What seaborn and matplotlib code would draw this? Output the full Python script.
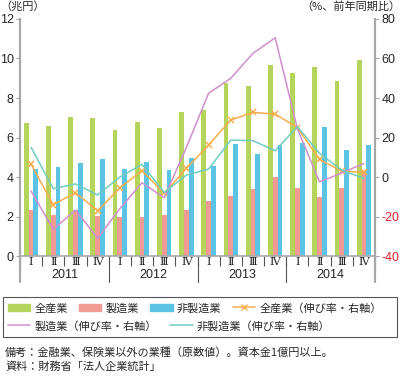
import numpy as np
import pandas as pd
import matplotlib
matplotlib.use("Agg")
import matplotlib.pyplot as plt
import matplotlib.transforms as mtransforms
from matplotlib.patches import Patch, Rectangle
from matplotlib.lines import Line2D
import seaborn as sns

# data (兆円 / 前年同期比 %)
years = ["2011", "2012", "2013", "2014"]
quarters = ["Ⅰ", "Ⅱ", "Ⅲ", "Ⅳ"]

all_ind = [6.72, 6.57, 7.02, 6.99, 6.36, 6.78, 6.46, 7.31,
           7.39, 8.78, 8.61, 9.66, 9.25, 9.57, 8.88, 9.92]
mfg = [2.33, 2.06, 2.35, 2.04, 1.97, 2.00, 2.06, 2.33,
       2.80, 3.05, 3.38, 4.00, 3.46, 2.99, 3.46, 4.30]
nonmfg = [4.39, 4.49, 4.73, 4.91, 4.39, 4.76, 4.35, 4.96,
          4.57, 5.67, 5.16, 5.64, 5.74, 6.55, 5.38, 5.62]

all_g = [6.4, -14.0, -7.9, -17.1, -5.5, 3.2, -8.3, 4.4,
         16.2, 28.9, 32.7, 31.9, 25.0, 8.9, 3.0, 2.4]
mfg_g = [-7.1, -26.5, -16.7, -31.0, -16.0, -2.9, -10.5, 15.0,
         42.4, 50.0, 62.6, 70.5, 24.5, -2.4, 2.0, 6.9]
non_g = [15.0, -5.9, -3.5, -9.1, 0.0, 6.4, -7.8, 1.0,
         4.0, 18.7, 18.4, 13.3, 25.5, 12.0, 3.5, -0.7]

bar_names = ["全産業", "製造業", "非製造業"]
line_names = ["全産業（伸び率・右軸）", "製造業（伸び率・右軸）", "非製造業（伸び率・右軸）"]
bar_colors = ["#b4d45c", "#f29b94", "#5bc3e3"]
line_colors = ["#f8ad4e", "#cf8fcf", "#72cdbf"]
grey = "#a8a8a8"
num_font = ["Liberation Sans", "DejaVu Sans"]

keys = [f"{y}-{q}" for y in years for q in quarters]
df = pd.DataFrame({
    "key": keys * 3,
    "series": np.repeat(bar_names, len(keys)),
    "value": all_ind + mfg + nonmfg,
})

sns.set_theme(style="white")
plt.rcParams["font.family"] = ["Noto Sans CJK JP", "DejaVu Sans"]

fig = plt.figure(figsize=(4, 3.76), dpi=100)
ax = fig.add_axes([0.05, 0.319, 0.8875, 0.6305])

sns.barplot(data=df, x="key", y="value", hue="series", order=keys,
            hue_order=bar_names, palette=bar_colors, width=0.65,
            saturation=1, linewidth=0, legend=False, ax=ax)
ax.set_xlim(-0.5, 15.5)
ax.set_ylim(0, 12)
ax.set_yticks(range(0, 13, 2))
ax.set_yticklabels([str(v) for v in range(0, 13, 2)], family=num_font)
ax.set_xlabel("")
ax.set_ylabel("")

# right axis: growth rates
ax2 = ax.twinx()
x = np.arange(len(keys))
sns.lineplot(x=x, y=all_g, color=line_colors[0], lw=1.1, marker="x",
             markersize=5, markeredgewidth=1.1, markeredgecolor=line_colors[0], ax=ax2)
sns.lineplot(x=x, y=mfg_g, color=line_colors[1], lw=1.1, ax=ax2)
sns.lineplot(x=x, y=non_g, color=line_colors[2], lw=1.1, ax=ax2)
ax2.set_ylim(-40, 80)
ax2.set_yticks(range(-40, 81, 20))
ax2.set_yticklabels([str(v) for v in range(-40, 81, 20)], family=num_font)
for lab, v in zip(ax2.get_yticklabels(), range(-40, 81, 20)):
    if v < 0:
        lab.set_color("#e8202a")

# spines and ticks
for s in ["top", "right"]:
    ax.spines[s].set_visible(False)
for s in ["top", "left", "bottom"]:
    ax2.spines[s].set_visible(False)
ax.spines["left"].set_color(grey)
ax.spines["left"].set_linewidth(1.6)
ax.spines["bottom"].set_color(grey)
ax.spines["bottom"].set_linewidth(1.2)
ax2.spines["right"].set_color(grey)
ax2.spines["right"].set_linewidth(1.6)

ax.tick_params(axis="y", which="major", direction="out", length=3, width=0.8,
               color=grey, labelsize=9, pad=1.5, left=True)
ax2.tick_params(axis="y", which="major", direction="out", length=3, width=0.8,
                color=grey, labelsize=9, pad=1.5, right=True)

ax.set_xticks(x)
ax.set_xticklabels(quarters * 4, fontsize=8, family=["DejaVu Serif"])
ax.set_xticks(np.arange(-0.5, 16, 1), minor=True)
ax.tick_params(axis="x", which="major", length=0, pad=1)
ax.tick_params(axis="x", which="minor", direction="out", length=7, width=0.8,
               color="#555555", bottom=True)

trans = mtransforms.blended_transform_factory(ax.transData, ax.transAxes)
for b in [-0.5, 3.5, 7.5, 11.5, 15.5]:
    ax.plot([b, b], [0, -0.11], transform=trans, clip_on=False,
            color=grey if b in (-0.5, 15.5) else "#555555",
            lw=1.6 if b in (-0.5, 15.5) else 0.8)
for i, y in enumerate(years):
    ax.text(1.5 + 4 * i, -0.082, y, transform=trans, ha="center", va="center",
            fontsize=9, family=num_font)

# units
fig.text(0.0, 0.983, "（兆円）", ha="left", va="center", fontsize=8)
fig.text(1.0, 0.983, "（%、前年同期比）", ha="right", va="center", fontsize=8)

# legend in a box, two rows
fig.add_artist(Rectangle((0.0075, 0.1037), 0.985, 0.1064, transform=fig.transFigure,
                         fill=False, edgecolor="#555555", lw=0.8))
row1 = [Patch(color=c) for c in bar_colors] + [
    Line2D([], [], color=line_colors[0], lw=1.1, marker="x", markersize=5)]
fig.legend(row1, bar_names + [line_names[0]], loc="center left",
           bbox_to_anchor=(0.02, 0.181), ncol=4, frameon=False, fontsize=8,
           handlelength=2.0, handleheight=0.7, handletextpad=0.4, columnspacing=1.0,
           borderpad=0, borderaxespad=0)
row2 = [Line2D([], [], color=line_colors[1], lw=1.1), Line2D([], [], color=line_colors[2], lw=1.1)]
fig.legend(row2, line_names[1:], loc="center left",
           bbox_to_anchor=(0.02, 0.133), ncol=2, frameon=False, fontsize=8,
           handlelength=2.0, handletextpad=0.4, columnspacing=1.2,
           borderpad=0, borderaxespad=0)

# notes
fig.text(0.0125, 0.063, "備考：金融業、保険業以外の業種（原数値）。資本金1億円以上。",
         ha="left", va="center", fontsize=8)
fig.text(0.0125, 0.026, "資料：財務省「法人企業統計」", ha="left", va="center", fontsize=8)

fig.savefig("out.png", dpi=100)
